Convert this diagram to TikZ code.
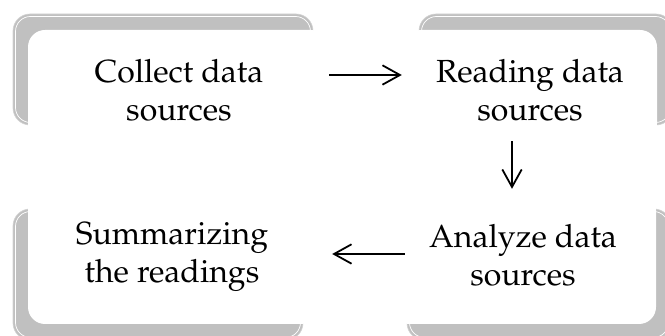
\documentclass[tikz,border=0pt]{standalone}
\usepackage[T1]{fontenc}
\renewcommand{\rmdefault}{ppl}
\usetikzlibrary{arrows.meta}
\definecolor{shade}{HTML}{C0C0C0}
\definecolor{shadeedge}{HTML}{D2D2D2}
\begin{document}
\begin{tikzpicture}[x=1pt,y=-1pt,
  shadowbox/.style={fill=shade, draw=shadeedge, line width=0.6pt, rounded corners=17pt},
  glint/.style={draw=white, line width=0.7pt, rounded corners=15pt},
  card/.style={fill=white, rounded corners=17pt, inner sep=0pt},
  lbl/.style={align=center, font=\fontsize{32}{38}\selectfont, text=black, inner sep=0pt},
  arr/.style={-{Straight Barb[angle=58:20pt]}, line width=1.8pt}]
\useasboundingbox (0,0) rectangle (665,336);
\begin{scope}
\clip (0,0) rectangle (665,336);
% shadows
\draw[shadowbox] (13,14) rectangle (313,125);
\draw[glint] (15.5,16.5) rectangle (310.5,122.5);
\draw[shadowbox] (419,14) rectangle (673,125);
\draw[glint] (421.5,16.5) rectangle (670.5,122.5);
\draw[shadowbox] (13,209) rectangle (303,340);
\draw[glint] (15.5,211.5) rectangle (300.5,337.5);
\draw[shadowbox] (407,209) rectangle (671,340);
\draw[glint] (409.5,211.5) rectangle (668.5,337.5);
% cards
\node[card, minimum width=300pt, minimum height=111pt] (tl) at (178,85.5) {};
\node[card, minimum width=253pt, minimum height=111pt] (tr) at (530.5,85.5) {};
\node[card, minimum width=290pt, minimum height=131pt] (bl) at (173,258.5) {};
\node[card, minimum width=264pt, minimum height=131pt] (br) at (524,258.5) {};
\end{scope}
% labels
\node[lbl] (t1) at (179,90) {Collect data\\sources};
\node[lbl] (t2) at (530,90) {Reading data\\sources};
\node[lbl] (t3) at (172,257) {Summarizing\\the readings};
\node[lbl] (t4) at (523,255) {Analyze data\\sources};
% arrows
\draw[arr, shorten <=1pt, shorten >=2pt] ([yshift=10.5pt]tl.east) -- ([yshift=10.5pt]tr.west);
\draw[arr, shorten >=4pt] ([xshift=-18.5pt]tr.south) -- ([xshift=-12pt]br.north);
\draw[arr, shorten <=-13pt, shorten >=14pt] ([yshift=4.5pt]br.west) -- ([yshift=4.5pt]bl.east);
\end{tikzpicture}
\end{document}
